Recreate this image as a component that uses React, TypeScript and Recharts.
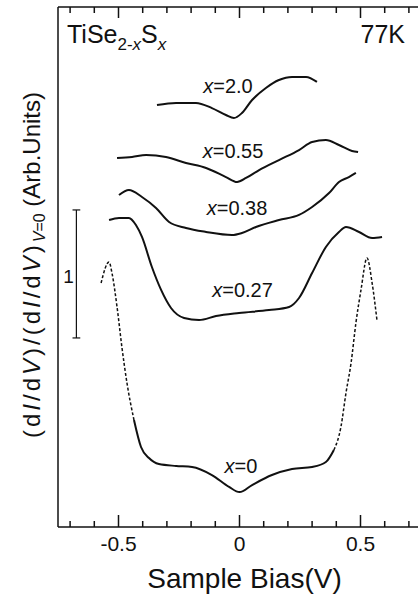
import { Line, LineChart, ReferenceLine, XAxis, YAxis } from 'recharts';

// bias (V) and normalized dI/dV, one unit = scale bar length
const biasTicks = [-0.7, -0.6, -0.5, -0.4, -0.3, -0.2, -0.1, 0, 0.1, 0.2, 0.3, 0.4, 0.5, 0.6, 0.7];
const majorTickLabels = ['-0.5', '0', '0.5'];

const biasX20 = [-0.341, -0.262, -0.18, -0.114, -0.056, -0.023, 0.01, 0.052, 0.109, 0.163, 0.217, 0.275, 0.32];
const didvX20 = [3.297, 3.313, 3.313, 3.273, 3.219, 3.195, 3.234, 3.336, 3.43, 3.492, 3.516, 3.516, 3.477];

const biasX055 = [-0.506, -0.444, -0.386, -0.304, -0.221, -0.138, -0.056, -0.01, 0.027, 0.081, 0.163, 0.246, 0.3, 0.357, 0.411, 0.465, 0.49];
const didvX055 = [2.883, 2.891, 2.906, 2.891, 2.844, 2.805, 2.734, 2.695, 2.727, 2.789, 2.867, 2.945, 3.008, 3.023, 2.984, 2.938, 2.93];

const biasX038 = [-0.498, -0.457, -0.403, -0.345, -0.291, -0.221, -0.138, -0.031, 0.01, 0.068, 0.163, 0.246, 0.3, 0.37, 0.411, 0.452, 0.481];
const didvX038 = [2.594, 2.633, 2.578, 2.492, 2.383, 2.336, 2.305, 2.281, 2.297, 2.344, 2.398, 2.438, 2.5, 2.609, 2.695, 2.734, 2.766];

const biasX027 = [-0.539, -0.498, -0.457, -0.428, -0.403, -0.362, -0.324, -0.283, -0.229, -0.167, -0.097, -0.002, 0.122, 0.205, 0.246, 0.3, 0.357, 0.411, 0.44, 0.494, 0.548, 0.589];
const didvX027 = [2.398, 2.414, 2.414, 2.359, 2.266, 2.031, 1.852, 1.711, 1.633, 1.617, 1.648, 1.672, 1.695, 1.719, 1.789, 1.984, 2.188, 2.305, 2.344, 2.305, 2.258, 2.266];

const biasX0 = [-0.572, -0.539, -0.527, -0.506, -0.486, -0.465, -0.436, -0.407, -0.374, -0.333, -0.262, -0.196, -0.114, -0.043, 0, 0.052, 0.134, 0.217, 0.3, 0.357, 0.39, 0.419, 0.44, 0.461, 0.481, 0.502, 0.527, 0.548, 0.568];
const didvX0 = [1.906, 2.07, 1.984, 1.719, 1.406, 1.125, 0.836, 0.625, 0.539, 0.492, 0.477, 0.469, 0.406, 0.313, 0.273, 0.328, 0.406, 0.453, 0.469, 0.508, 0.602, 0.781, 1.047, 1.281, 1.594, 1.852, 2.102, 1.906, 1.617];

// scale bar: one unit of normalized conductance
const scaleBarBias = -0.674;
const scaleBarFrom = 1.477;
const scaleBarTo = 2.477;
const scaleBarCap = 0.016;

const yTop = 4.0625;

// plot frame, must agree with the LineChart margins below
const plotLeft = 58;
const plotWidth = 363;
const plotTop = 7;
const plotBottom = 527;
const biasMin = -0.75;
const biasMax = 0.75;

const zip = (b: number[], d: number[]) => b.map((v, i) => ({ v, y: d[i] }));

const x20 = zip(biasX20, didvX20);
const x055 = zip(biasX055, didvX055);
const x038 = zip(biasX038, didvX038);
const x027 = zip(biasX027, didvX027);
const x0 = zip(biasX0, didvX0);
const x0Left = x0.filter((p) => p.v <= -0.436);
const x0Mid = x0.filter((p) => p.v >= -0.436 && p.v <= 0.39);
const x0Right = x0.filter((p) => p.v >= 0.39);

const ink = '#111';
const font = '"Liberation Sans", Arial, sans-serif';

const isMajor = (v: number) => Math.abs(v * 2 - Math.round(v * 2)) < 1e-6;
const labelFor = (v: number) => majorTickLabels[Math.round(v * 2) + 1];
const biasPx = (v: number) => plotLeft + ((v - biasMin) / (biasMax - biasMin)) * plotWidth;

function BottomTickLabel({ x, y, payload }: any) {
  if (!isMajor(payload.value)) return <g />;
  return (
    <text x={x} y={y + 24} textAnchor="middle" fontSize={21} fontFamily={font} fill={ink}>
      {labelFor(payload.value)}
    </text>
  );
}

function CurveLabel({ x, y, value }: { x: number; y: number; value: string }) {
  return (
    <text x={x} y={y} textAnchor="middle" fontSize={20} fontFamily={font} fill={ink}>
      <tspan fontStyle="italic">x</tspan>={value}
    </text>
  );
}

export default function App() {
  const curve = (data: any[], key: string, width = 2, dash?: string) => (
    <Line
      key={key}
      data={data}
      dataKey="y"
      type="monotone"
      stroke={ink}
      strokeWidth={width}
      strokeDasharray={dash}
      dot={false}
      activeDot={false}
      isAnimationActive={false}
    />
  );

  return (
    <div style={{ position: 'absolute', left: 0, top: 0, width: 418, height: 596, overflow: 'hidden', background: '#fff' }}>
      <LineChart width={424} height={596} margin={{ top: 6, right: 3, bottom: 39, left: 57 }}>
        <XAxis
          dataKey="v"
          type="number"
          domain={[biasMin, biasMax]}
          allowDataOverflow
          ticks={biasTicks}
          interval={0}
          height={30}
          tickSize={0}
          tickMargin={0}
          tickLine={false}
          tick={<BottomTickLabel />}
          axisLine={{ stroke: ink, strokeWidth: 1.5 }}
        />
        <XAxis
          xAxisId="top"
          orientation="top"
          dataKey="v"
          type="number"
          domain={[biasMin, biasMax]}
          allowDataOverflow
          height={1}
          tick={false}
          tickLine={false}
          axisLine={{ stroke: ink, strokeWidth: 1.5 }}
        />
        <YAxis
          type="number"
          domain={[0, yTop]}
          allowDataOverflow
          width={1}
          tick={false}
          tickLine={false}
          axisLine={{ stroke: ink, strokeWidth: 1.5 }}
        />
        <ReferenceLine
          segment={[{ x: scaleBarBias, y: scaleBarFrom }, { x: scaleBarBias, y: scaleBarTo }]}
          stroke={ink}
          strokeWidth={1.2}
        />
        <ReferenceLine
          segment={[{ x: scaleBarBias - scaleBarCap, y: scaleBarTo }, { x: scaleBarBias + scaleBarCap, y: scaleBarTo }]}
          stroke={ink}
          strokeWidth={1.2}
        />
        <ReferenceLine
          segment={[{ x: scaleBarBias - scaleBarCap, y: scaleBarFrom }, { x: scaleBarBias + scaleBarCap, y: scaleBarFrom }]}
          stroke={ink}
          strokeWidth={1.2}
        />
        {curve(x20, 'x20')}
        {curve(x055, 'x055')}
        {curve(x038, 'x038')}
        {curve(x027, 'x027')}
        {curve(x0Left, 'x0l', 1.5, '3 2')}
        {curve(x0Mid, 'x0m')}
        {curve(x0Right, 'x0r', 1.5, '3 2')}
      </LineChart>
      <svg width={418} height={596} style={{ position: 'absolute', left: 0, top: 0, pointerEvents: 'none' }}>
        {/* inward frame ticks */}
        {biasTicks.map((v) => (
          <line
            key={'b' + v}
            x1={biasPx(v)}
            x2={biasPx(v)}
            y1={plotBottom}
            y2={plotBottom - (isMajor(v) ? 12 : 6)}
            stroke={ink}
            strokeWidth={1.5}
          />
        ))}
        {biasTicks.map((v) => (
          <line
            key={'t' + v}
            x1={biasPx(v)}
            x2={biasPx(v)}
            y1={plotTop}
            y2={plotTop + (isMajor(v) ? 11 : 6)}
            stroke={ink}
            strokeWidth={1.5}
          />
        ))}
        <text x={67} y={43} fontSize={25} fontFamily={font} fill={ink}>
          TiSe
          <tspan fontSize={17} dy={7}>
            2-<tspan fontStyle="italic">x</tspan>
          </tspan>
          <tspan dy={-7}>S</tspan>
          <tspan fontSize={17} dy={7} fontStyle="italic">x</tspan>
        </text>
        <text x={405} y={43} textAnchor="end" fontSize={25} fontFamily={font} fill={ink}>
          77K
        </text>
        <text transform="translate(40,265) rotate(-90)" textAnchor="middle" fontSize={24} fontFamily={font} fill={ink}>
          <tspan letterSpacing={3}>
            (d<tspan fontStyle="italic">I</tspan>/d<tspan fontStyle="italic">V</tspan>)/(d
            <tspan fontStyle="italic">I</tspan>/d<tspan fontStyle="italic">V</tspan>)
          </tspan>
          <tspan fontSize={16} dy={5} fontStyle="italic">V</tspan>
          <tspan fontSize={16}>=0</tspan>
          <tspan dy={-5}> (Arb.Units)</tspan>
        </text>
        <text x={244.5} y={588} textAnchor="middle" fontSize={28} fontFamily={font} fill={ink}>
          Sample Bias(V)
        </text>
        <text x={68.5} y={283} textAnchor="middle" fontSize={19} fontFamily={font} fill={ink}>
          1
        </text>
        <CurveLabel x={228} y={93} value="2.0" />
        <CurveLabel x={233} y={158} value="0.55" />
        <CurveLabel x={237} y={215} value="0.38" />
        <CurveLabel x={242.5} y={297} value="0.27" />
        <CurveLabel x={241} y={473} value="0" />
      </svg>
    </div>
  );
}
